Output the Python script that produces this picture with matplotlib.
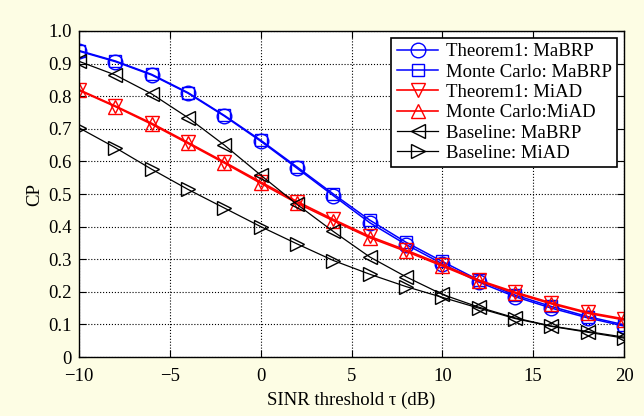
import numpy as np
import matplotlib
matplotlib.use("Agg")
import matplotlib.pyplot as plt

# ==========================================================
# Data
# ==========================================================

sinr_db = [-10, -8, -6, -4, -2, 0, 2, 4, 6, 8, 10, 12, 14, 16, 18, 20]

thm_mabrp = [0.938, 0.906, 0.865, 0.809, 0.739, 0.662, 0.579, 0.495, 0.412, 0.345,
             0.286, 0.230, 0.185, 0.150, 0.120, 0.095]
mc_mabrp = [0.940, 0.908, 0.867, 0.811, 0.741, 0.665, 0.583, 0.500, 0.420, 0.352,
            0.293, 0.236, 0.190, 0.155, 0.124, 0.099]
thm_miad = [0.820, 0.770, 0.717, 0.658, 0.598, 0.537, 0.477, 0.422, 0.370, 0.328,
            0.283, 0.236, 0.199, 0.166, 0.137, 0.117]
mc_miad = [0.818, 0.768, 0.714, 0.655, 0.595, 0.533, 0.472, 0.418, 0.366, 0.324,
           0.279, 0.233, 0.196, 0.163, 0.134, 0.114]
base_mabrp = [0.907, 0.865, 0.807, 0.734, 0.650, 0.558, 0.468, 0.385, 0.307, 0.246,
              0.192, 0.153, 0.120, 0.095, 0.078, 0.061]
base_miad = [0.703, 0.642, 0.576, 0.514, 0.457, 0.400, 0.347, 0.296, 0.254, 0.216,
             0.183, 0.150, 0.118, 0.094, 0.076, 0.058]

labels = ["Theorem1: MaBRP", "Monte Carlo: MaBRP", "Theorem1: MiAD",
          "Monte Carlo:MiAD", "Baseline: MaBRP", "Baseline: MiAD"]

# ==========================================================
# Plot
# ==========================================================

plt.rcParams["font.family"] = ["Liberation Serif", "DejaVu Serif"]
plt.rcParams["font.size"] = 13.5

fig = plt.figure(figsize=(6.44, 4.16), dpi=100, facecolor="#fdfde4")
ax = fig.add_axes([0.1227, 0.1418, 0.8463, 0.7837])
ax.set_facecolor("white")

ms = 10.5
common = dict(markerfacecolor="none", markersize=ms, markeredgewidth=1.0)
ax.plot(sinr_db, thm_mabrp, "-o", color="blue", lw=1.1, label=labels[0], **common)
ax.plot(sinr_db, mc_mabrp, "-s", color="blue", lw=1.1, label=labels[1],
        markerfacecolor="none", markersize=9, markeredgewidth=1.0)
ax.plot(sinr_db, thm_miad, "-v", color="red", lw=1.2, label=labels[2], **common)
ax.plot(sinr_db, mc_miad, "-^", color="red", lw=1.2, label=labels[3], **common)
ax.plot(sinr_db, base_mabrp, "-<", color="black", lw=0.9, label=labels[4], **common)
ax.plot(sinr_db, base_miad, "->", color="black", lw=0.9, label=labels[5], **common)

ax.set_xlim(-10, 20)
ax.set_ylim(0, 1.0)
ax.set_xticks([-10, -5, 0, 5, 10, 15, 20])
ax.set_xticklabels(["\u221210", "\u22125", "0", "5", "10", "15", "20"])
ax.set_yticks(np.arange(0, 1.01, 0.1))
ax.set_yticklabels(["0"] + ["%.1f" % v for v in np.arange(0.1, 1.01, 0.1)])
ax.tick_params(direction="in", top=True, right=True, length=5, width=0.8)
ax.tick_params(axis="x", pad=8)
ax.tick_params(axis="y", pad=5)
ax.grid(True, linestyle=":", color="black", linewidth=0.8)
for sp in ax.spines.values():
    sp.set_linewidth(1.0)

ax.set_xlabel("SINR threshold \u03c4 (dB)", labelpad=5)
ax.set_ylabel("CP", labelpad=4)

leg = ax.legend(loc="upper right", fancybox=False, framealpha=1, edgecolor="black",
                borderpad=0.3, labelspacing=0.17, handlelength=2.2,
                handletextpad=0.4, borderaxespad=0.35, fontsize=13.5)
leg.get_frame().set_linewidth(1.2)

fig.savefig("out.png", dpi=100, facecolor=fig.get_facecolor())
